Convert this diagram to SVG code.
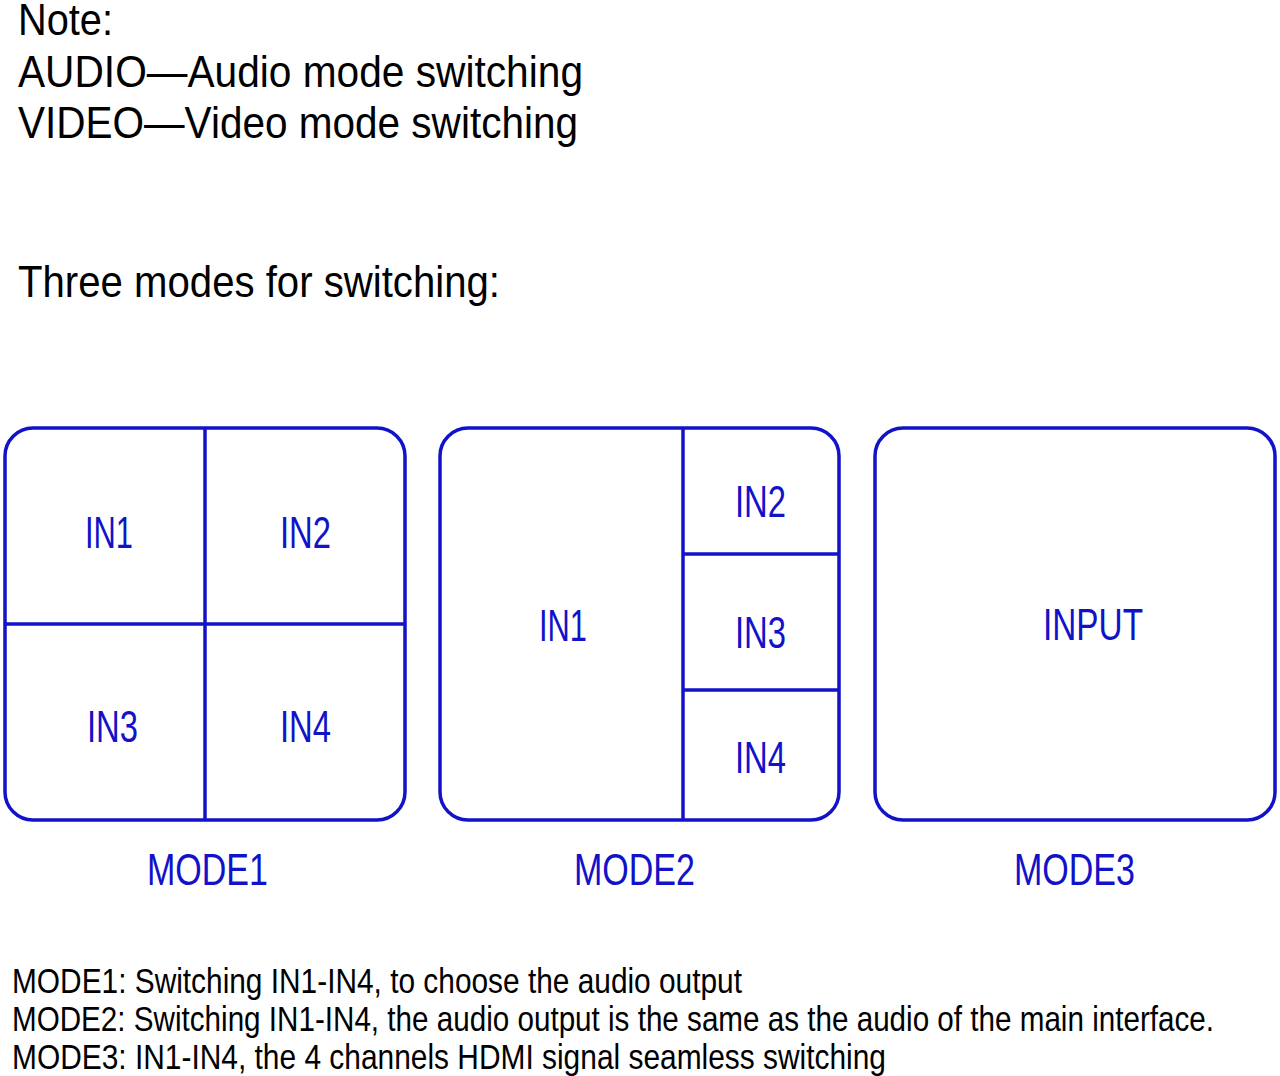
<svg xmlns="http://www.w3.org/2000/svg" width="1280" height="1076" viewBox="0 0 1280 1076">
<style>
.box{fill:none;stroke:#1212C8;stroke-width:3.5}
.div{stroke:#1212C8;stroke-width:3.5;fill:none}
.lbl{font-family:"Liberation Sans",Arial,sans-serif;font-size:44px;fill:#1212C8}
.note{font-family:"Liberation Sans",Arial,sans-serif;font-size:44px;fill:#000}
.desc{font-family:"Liberation Sans",Arial,sans-serif;font-size:35px;fill:#000}
</style>
<rect width="1280" height="1076" fill="#fff"/>
<g id="notes">
<text class="note" x="18" y="35" textLength="95" lengthAdjust="spacingAndGlyphs">Note:</text>
<text class="note" x="18" y="87" textLength="565" lengthAdjust="spacingAndGlyphs">AUDIO—Audio mode switching</text>
<text class="note" x="18" y="138" textLength="560" lengthAdjust="spacingAndGlyphs">VIDEO—Video mode switching</text>
<text class="note" x="18" y="297" textLength="482" lengthAdjust="spacingAndGlyphs">Three modes for switching:</text>
</g>
<g id="mode1">
<rect class="box" x="5" y="428" width="400" height="392" rx="28" ry="28"/>
<line class="div" x1="205" y1="428" x2="205" y2="820"/>
<line class="div" x1="5" y1="624" x2="405" y2="624"/>
<text class="lbl" x="85" y="548" textLength="48" lengthAdjust="spacingAndGlyphs">IN1</text>
<text class="lbl" x="280" y="548" textLength="51" lengthAdjust="spacingAndGlyphs">IN2</text>
<text class="lbl" x="87" y="742" textLength="51" lengthAdjust="spacingAndGlyphs">IN3</text>
<text class="lbl" x="280" y="742" textLength="51" lengthAdjust="spacingAndGlyphs">IN4</text>
<text class="lbl" x="147" y="885" textLength="121" lengthAdjust="spacingAndGlyphs">MODE1</text>
</g>
<g id="mode2">
<rect class="box" x="440" y="428" width="399" height="392" rx="28" ry="28"/>
<line class="div" x1="683" y1="428" x2="683" y2="820"/>
<line class="div" x1="683" y1="554" x2="839" y2="554"/>
<line class="div" x1="683" y1="690" x2="839" y2="690"/>
<text class="lbl" x="539" y="641" textLength="48" lengthAdjust="spacingAndGlyphs">IN1</text>
<text class="lbl" x="735" y="517" textLength="51" lengthAdjust="spacingAndGlyphs">IN2</text>
<text class="lbl" x="735" y="648" textLength="51" lengthAdjust="spacingAndGlyphs">IN3</text>
<text class="lbl" x="735" y="773" textLength="51" lengthAdjust="spacingAndGlyphs">IN4</text>
<text class="lbl" x="574" y="885" textLength="121" lengthAdjust="spacingAndGlyphs">MODE2</text>
</g>
<g id="mode3">
<rect class="box" x="875" y="428" width="400" height="392" rx="28" ry="28"/>
<text class="lbl" x="1043" y="640" textLength="100" lengthAdjust="spacingAndGlyphs">INPUT</text>
<text class="lbl" x="1014" y="885" textLength="121" lengthAdjust="spacingAndGlyphs">MODE3</text>
</g>
<g id="connectors"/>
<g id="descriptions">
<text class="desc" x="12" y="993" textLength="730" lengthAdjust="spacingAndGlyphs">MODE1: Switching IN1-IN4, to choose the audio output</text>
<text class="desc" x="12" y="1031" textLength="1202" lengthAdjust="spacingAndGlyphs">MODE2: Switching IN1-IN4, the audio output is the same as the audio of the main interface.</text>
<text class="desc" x="12" y="1069" textLength="874" lengthAdjust="spacingAndGlyphs">MODE3: IN1-IN4, the 4 channels HDMI signal seamless switching</text>
</g>
</svg>
